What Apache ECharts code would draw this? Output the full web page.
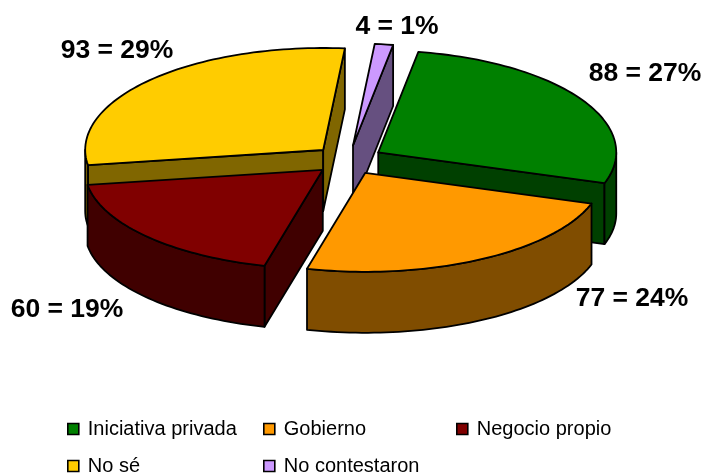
<!DOCTYPE html>
<html><head><meta charset="utf-8">
<style>html,body{margin:0;padding:0;background:#fff}#c{width:704px;height:473px}</style>
<script src="https://cdn.jsdelivr.net/npm/echarts@6/dist/echarts.min.js"></script>
</head><body><div id="c"></div>
<script>
const categories = ['Iniciativa privada','Gobierno','Negocio propio','No sé','No contestaron'];
const values = [88,77,60,93,4];
const percents = [27,24,19,29,1];

const topColors = ['#008000','#FF9900','#800000','#FFCC00','#CC99FF'];
const sideColors = ['#004000','#804D00','#400000','#806600','#665080'];
const drawOrder = [4,3,0,2,1];
const labelCenters = [[645,74],[632,299],[67,310],[117,51],[397,27]];
const legendSpots = [[67,419],[263,419],[456,419],[67,456],[263,456]];
const P = {cx:348.5, cy:160, rx:238, ryBack:102, ryFront:99, depth:61, explode:0.146, start:9.7};
const FONT = '"Liberation Sans", Arial, sans-serif';

const total = values.reduce((a,b)=>a+b,0);
let acc = P.start;
const spans = values.map(v=>{const s=acc; acc+=v/total*360; return [s,acc];});
const rad = d=>d*Math.PI/180;

function renderSlice(i){
  const [a0,a1] = spans[i], mid = rad((a0+a1)/2);
  const ax = P.cx + P.explode*P.rx*Math.sin(mid), ay = P.cy - P.explode*100*Math.cos(mid);
  const pt = d=>{const c=Math.cos(rad(d));return [ax+P.rx*Math.sin(rad(d)), ay-(c>0?P.ryBack:P.ryFront)*c];};
  const arc = (from,to)=>{const n=Math.max(2,Math.ceil((to-from)/1.5)),o=[];for(let k=0;k<=n;k++)o.push(pt(from+(to-from)*k/n));return o;};
  const down = p=>[p[0],p[1]+P.depth];
  const line = {stroke:'#000',lineWidth:1.8,lineJoin:'round'};
  const side = pts=>({type:'polygon',shape:{points:pts},style:Object.assign({fill:sideColors[i]},line)});
  const kids = [];
  const A=[ax,ay], S=pt(a0), E=pt(a1);
  if(S[0]<ax) kids.push(side([A,S,down(S),down(A)]));
  if(E[0]>ax) kids.push(side([E,A,down(A),down(E)]));
  for(const [lo,hi] of [[90,270],[450,630]]){
    const f=Math.max(a0,lo), t=Math.min(a1,hi);
    if(f<t){const r=arc(f,t); kids.push(side(r.concat(r.map(down).reverse())));}
  }
  kids.push({type:'polygon',shape:{points:[A].concat(arc(a0,a1))},style:Object.assign({fill:topColors[i]},line)});
  kids.push({type:'text',x:labelCenters[i][0],y:labelCenters[i][1],z2:50,
    style:{text:values[i]+' = '+percents[i]+'%',font:'bold 26.5px '+FONT,fill:'#000',align:'center',verticalAlign:'middle'}});
  return {type:'group',children:kids};
}

const series = drawOrder.map(i=>({
  type:'custom',name:categories[i],coordinateSystem:'none',
  data:[values[i]],silent:true,animation:false,
  itemStyle:{color:topColors[i]},
  renderItem:()=>renderSlice(i)
}));

const legend = categories.map((c,i)=>({
  data:[c],left:legendSpots[i][0],top:legendSpots[i][1],padding:0,
  icon:'rect',itemWidth:11,itemHeight:11,itemGap:0,selectedMode:false,
  itemStyle:{borderColor:'#000',borderWidth:1.6},
  textStyle:{fontFamily:FONT,fontSize:20,color:'#000',padding:[0,0,0,4]}
}));

echarts.init(document.getElementById('c'),null,{renderer:'canvas'}).setOption({
  backgroundColor:'#fff',animation:false,legend,series
});
</script></body></html>
